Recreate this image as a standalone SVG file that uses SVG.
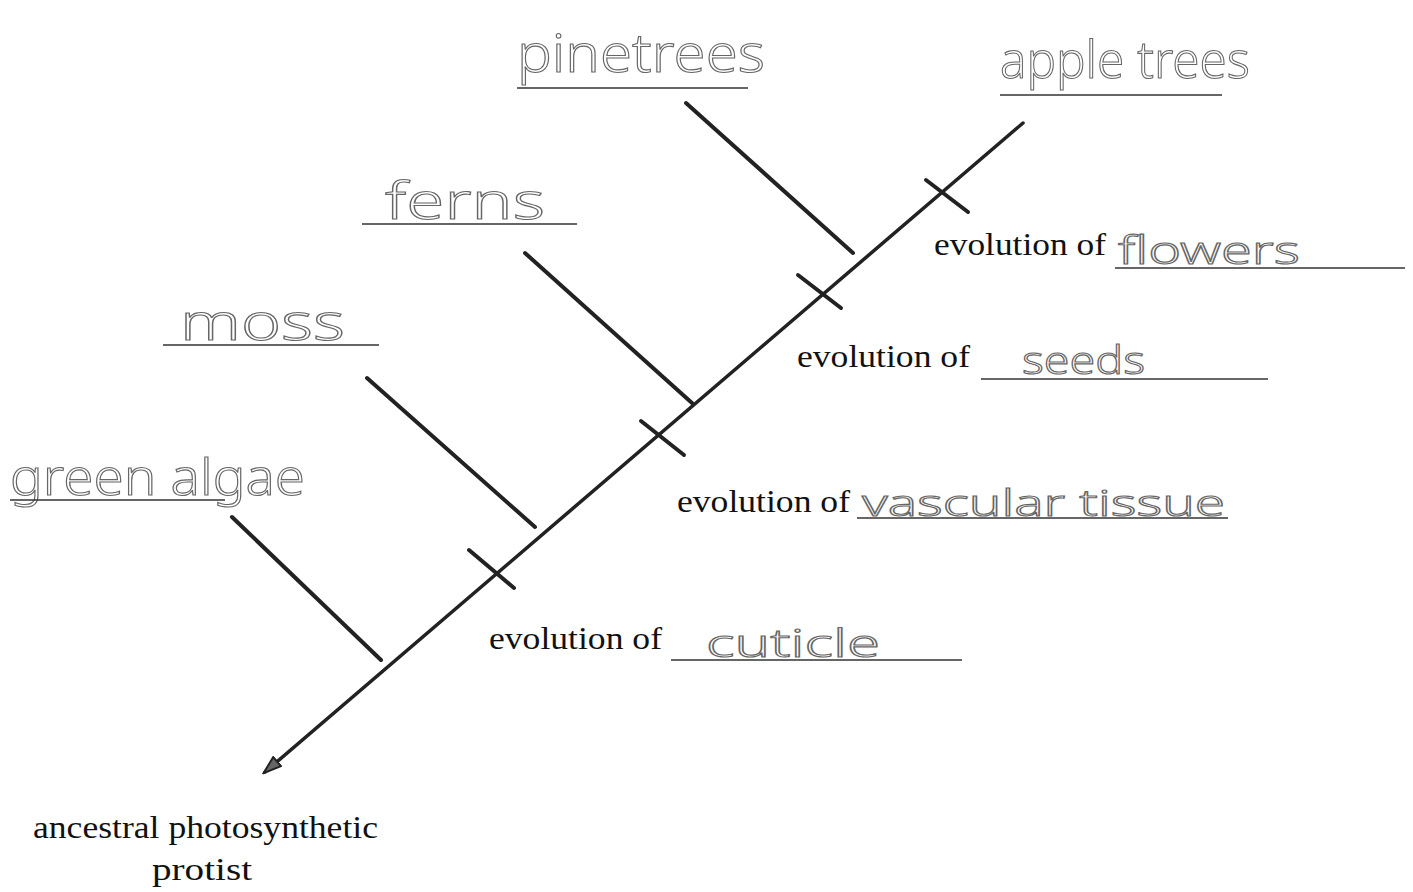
<svg xmlns="http://www.w3.org/2000/svg" width="1413" height="892" viewBox="0 0 1413 892">
<style>
.ln{stroke:#222;stroke-width:4;stroke-linecap:round;fill:none}
.ul{stroke:#333;stroke-width:1.3;fill:none}
.t{font-family:"Liberation Serif",serif;font-size:32px;fill:#111}
.h{font-family:"Noto Sans","DejaVu Sans",sans-serif;font-weight:300;fill:#fff;stroke:#666;stroke-width:1.1}
</style>
<defs>
<marker id="ah" markerWidth="20" markerHeight="14" refX="17" refY="7" orient="auto" markerUnits="userSpaceOnUse">
<path d="M1,1 L19,7 L1,13 Z" fill="#666" stroke="#222" stroke-width="2"/>
</marker>
</defs>
<rect width="1413" height="892" fill="#fff"/>
<g id="connectors">
<line class="ln" x1="1023" y1="123" x2="265" y2="772" marker-end="url(#ah)" style="stroke-width:3.5"/>
<line class="ln" x1="232" y1="517" x2="381" y2="660"/>
<line class="ln" x1="367" y1="378" x2="535" y2="527"/>
<line class="ln" x1="525" y1="253" x2="692" y2="403"/>
<line class="ln" x1="686" y1="103" x2="853" y2="253"/>
<line class="ln" x1="469" y1="550" x2="514" y2="588"/>
<line class="ln" x1="641" y1="421" x2="684" y2="455"/>
<line class="ln" x1="798" y1="275" x2="841" y2="308"/>
<line class="ln" x1="926" y1="180" x2="968" y2="212"/>
</g>
<g id="green-algae">
<text class="h" x="10" y="495" font-size="50" textLength="295" lengthAdjust="spacingAndGlyphs">green algae</text>
<line class="ul" x1="10" y1="500" x2="225" y2="500"/>
</g>
<g id="moss">
<text class="h" x="180" y="340" font-size="50" textLength="165" lengthAdjust="spacingAndGlyphs">moss</text>
<line class="ul" x1="163" y1="345" x2="379" y2="345"/>
</g>
<g id="ferns">
<text class="h" x="385" y="219" font-size="52" textLength="160" lengthAdjust="spacingAndGlyphs">ferns</text>
<line class="ul" x1="362" y1="224" x2="577" y2="224"/>
</g>
<g id="pine-trees">
<text class="h" x="517" y="72" font-size="54" textLength="248" lengthAdjust="spacingAndGlyphs">pinetrees</text>
<line class="ul" x1="517" y1="88" x2="748" y2="88"/>
</g>
<g id="apple-trees">
<text class="h" x="1000" y="78" font-size="52" textLength="250" lengthAdjust="spacingAndGlyphs">apple trees</text>
<line class="ul" x1="1000" y1="95" x2="1222" y2="95"/>
</g>
<g id="flowers">
<text class="t" x="934" y="255" textLength="172" lengthAdjust="spacingAndGlyphs">evolution of</text>
<text class="h" x="1118" y="264" font-size="38" textLength="182" lengthAdjust="spacingAndGlyphs">flowers</text>
<line class="ul" x1="1115" y1="268" x2="1405" y2="268"/>
</g>
<g id="seeds">
<text class="t" x="797" y="367" textLength="173" lengthAdjust="spacingAndGlyphs">evolution of</text>
<text class="h" x="1022" y="374" font-size="38" textLength="123" lengthAdjust="spacingAndGlyphs">seeds</text>
<line class="ul" x1="981" y1="379" x2="1268" y2="379"/>
</g>
<g id="vascular-tissue">
<text class="t" x="677" y="512" textLength="173" lengthAdjust="spacingAndGlyphs">evolution of</text>
<text class="h" x="862" y="516" font-size="36" textLength="363" lengthAdjust="spacingAndGlyphs">vascular tissue</text>
<line class="ul" x1="857" y1="518" x2="1228" y2="518"/>
</g>
<g id="cuticle">
<text class="t" x="489" y="649" textLength="173" lengthAdjust="spacingAndGlyphs">evolution of</text>
<text class="h" x="706" y="657" font-size="38" textLength="174" lengthAdjust="spacingAndGlyphs">cuticle</text>
<line class="ul" x1="671" y1="660" x2="962" y2="660"/>
</g>
<g id="ancestor">
<text class="t" x="33" y="838" textLength="345" lengthAdjust="spacingAndGlyphs">ancestral photosynthetic</text>
<text class="t" x="152" y="880" textLength="100" lengthAdjust="spacingAndGlyphs">protist</text>
</g>
</svg>
